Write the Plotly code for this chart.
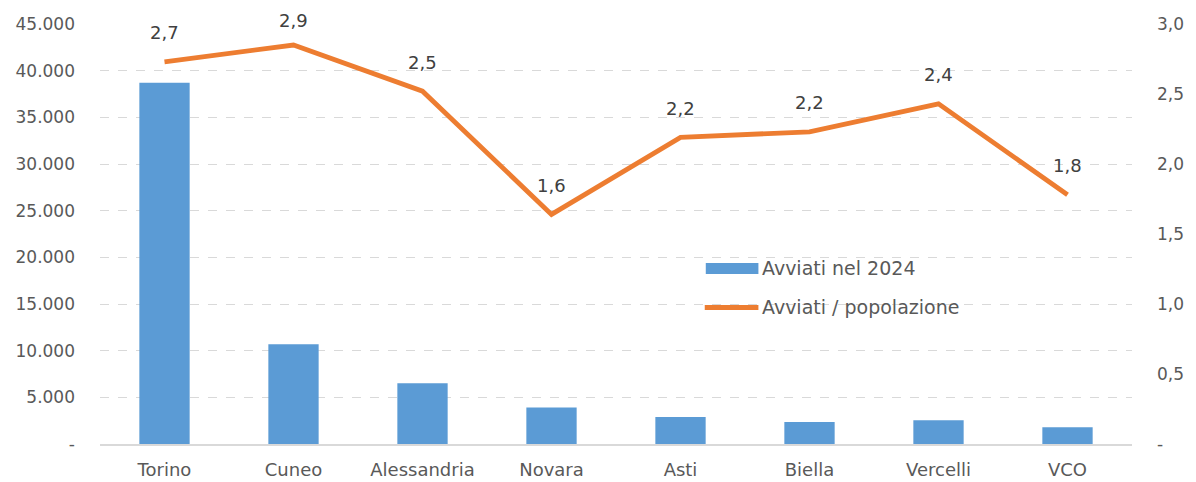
import plotly.graph_objects as go

categories = ["Torino", "Cuneo", "Alessandria", "Novara", "Asti", "Biella", "Vercelli", "VCO"]
avviati_2024 = [38700, 10700, 6500, 3900, 2900, 2350, 2550, 1800]
avviati_pop = [2.73, 2.85, 2.52, 1.64, 2.19, 2.23, 2.43, 1.78]
left_ticks = [0, 5000, 10000, 15000, 20000, 25000, 30000, 35000, 40000, 45000]
left_ticktext = ["-", "5.000", "10.000", "15.000", "20.000", "25.000", "30.000", "35.000", "40.000", "45.000"]
right_ticks = [0, 0.5, 1.0, 1.5, 2.0, 2.5, 3.0]
right_ticktext = ["-", "0,5", "1,0", "1,5", "2,0", "2,5", "3,0"]
series_names = ["Avviati nel 2024", "Avviati / popolazione"]

FONT = "DejaVu Sans"
BLUE = "#5B9BD5"
ORANGE = "#ED7D31"
TICK = "#595959"

fig = go.Figure()
fig.add_trace(go.Bar(x=categories, y=avviati_2024, name=series_names[0],
                     marker=dict(color=BLUE, line=dict(width=0)), width=0.39, yaxis="y",
                     showlegend=False))
fig.add_trace(go.Scatter(x=categories, y=avviati_pop, name=series_names[1],
                         mode="lines", line=dict(color=ORANGE, width=4.8), yaxis="y2",
                         showlegend=False))

for c, v in zip(categories, avviati_pop):
    # labels sit above the points; the top one is nudged down to stay inside the chart
    shift = 25 if v > 2.8 else 29
    fig.add_annotation(x=c, y=v, yref="y2", xref="x", text=f"{v:.1f}".replace(".", ","),
                       showarrow=False, yshift=shift, font=dict(family=FONT, size=18, color="#404040"))

# custom legend (wide swatches like the original)
fig.add_shape(type="rect", xref="paper", yref="paper", x0=0.587, x1=0.638, y0=0.405, y1=0.431,
              fillcolor=BLUE, line=dict(width=0))
fig.add_shape(type="line", xref="paper", yref="paper", x0=0.586, x1=0.638, y0=0.325, y1=0.325,
              line=dict(color=ORANGE, width=5))
fig.add_annotation(xref="paper", yref="paper", x=0.640, y=0.419, text=series_names[0],
                   showarrow=False, xanchor="left", yanchor="middle",
                   font=dict(family=FONT, size=19, color=TICK))
fig.add_annotation(xref="paper", yref="paper", x=0.640, y=0.327, text=series_names[1],
                   showarrow=False, xanchor="left", yanchor="middle",
                   font=dict(family=FONT, size=19, color=TICK))

# the page body adds an 8px margin, so the figure is sized/offset to compensate
fig.update_layout(
    width=1188, height=474,
    margin=dict(l=92, r=64, t=16, b=38, autoexpand=False),
    paper_bgcolor="white", plot_bgcolor="white",
    font=dict(family=FONT, size=17, color=TICK),
    showlegend=False,
    xaxis=dict(showgrid=False, showline=True, linecolor="#D9D9D9", linewidth=1.5,
               ticks="", tickfont=dict(family=FONT, size=18, color=TICK), ticklabelstandoff=9,
               automargin=False),
    yaxis=dict(range=[0, 45000], tickvals=left_ticks, ticktext=left_ticktext,
               showgrid=True, gridcolor="#D9D9D9", griddash="dash", gridwidth=1,
               zeroline=False, showline=False, ticks="", ticklabelstandoff=24,
               tickfont=dict(family=FONT, size=17, color=TICK), automargin=False),
    yaxis2=dict(range=[0, 3.0], tickvals=right_ticks, ticktext=right_ticktext,
                overlaying="y", side="right", showgrid=False, zeroline=False,
                showline=False, ticks="", ticklabelstandoff=24,
                tickfont=dict(family=FONT, size=17, color=TICK), automargin=False),
)

fig.write_html("out.html")
